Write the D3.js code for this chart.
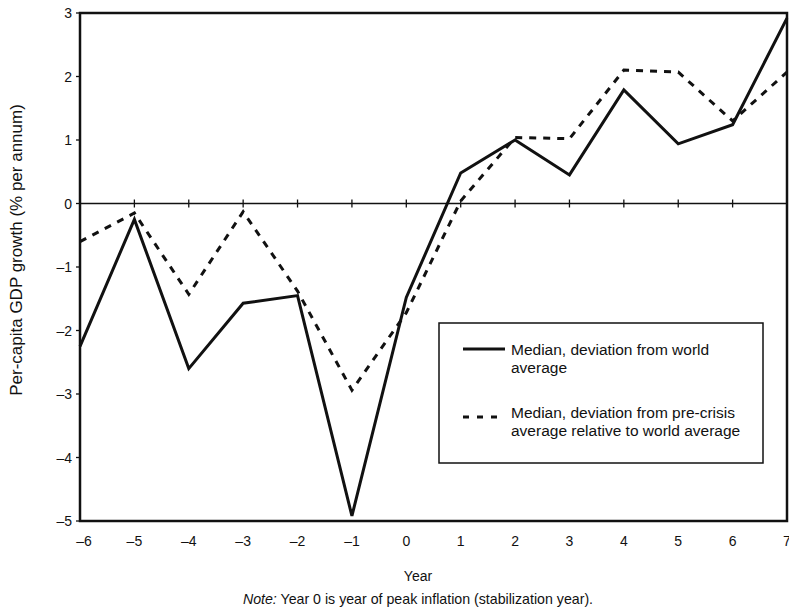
<!DOCTYPE html>
<html>
<head>
<meta charset="utf-8">
<script src="https://cdn.jsdelivr.net/npm/d3@7/dist/d3.min.js"></script>
<style>
  body { margin: 0; background: #fff; }
  svg { display: block; font-family: "Liberation Sans", Arial, Helvetica, sans-serif; }
</style>
</head>
<body>
<svg id="chart" width="789" height="612"></svg>
<script>
const years = [-6, -5, -4, -3, -2, -1, 0, 1, 2, 3, 4, 5, 6, 7];
const medianWorld = [-2.25, -0.25, -2.6, -1.57, -1.45, -4.92, -1.48, 0.48, 1.0, 0.45, 1.79, 0.94, 1.24, 2.92];
const medianPreCrisis = [-0.6, -0.15, -1.43, -0.13, -1.38, -2.94, -1.72, 0.04, 1.04, 1.02, 2.1, 2.07, 1.3, 2.07];
const yTicks = [3, 2, 1, 0, -1, -2, -3, -4, -5];
const xTicks = [-6, -5, -4, -3, -2, -1, 0, 1, 2, 3, 4, 5, 6, 7];
const legendLabels = [
  ["Median, deviation from world", "average"],
  ["Median, deviation from pre-crisis", "average relative to world average"]
];
const yAxisTitle = "Per-capita GDP growth (% per annum)";
const xAxisTitle = "Year";

const svg = d3.select("#chart");
const pLeft = 80, pRight = 787, pTop = 13, pBottom = 521;
const x = d3.scaleLinear().domain([-6, 7]).range([pLeft, pRight]);
const y = d3.scaleLinear().domain([-5, 3]).range([pBottom, pTop]);
const fmt = d => d < 0 ? "\u2013" + Math.abs(d) : String(d);

// zero line with ticks
svg.append("line").attr("x1", pLeft).attr("x2", pRight)
  .attr("y1", y(0)).attr("y2", y(0))
  .attr("stroke", "#111").attr("stroke-width", 1.6);
svg.append("g").selectAll("line").data(xTicks.slice(1, -1)).join("line")
  .attr("x1", d => x(d)).attr("x2", d => x(d))
  .attr("y1", y(0) - 4).attr("y2", y(0) + 4)
  .attr("stroke", "#111").attr("stroke-width", 1.3);

// y axis ticks (outward)
svg.append("g").selectAll("line").data(yTicks).join("line")
  .attr("x1", pLeft - 4).attr("x2", pLeft)
  .attr("y1", d => y(d)).attr("y2", d => y(d))
  .attr("stroke", "#111").attr("stroke-width", 1.3);

// y labels
svg.append("g").selectAll("text").data(yTicks).join("text")
  .attr("x", pLeft - 8).attr("y", d => y(d)).attr("dy", "0.36em")
  .attr("text-anchor", "end").attr("font-size", 14).attr("fill", "#111")
  .text(fmt);

// x labels
svg.append("g").selectAll("text").data(xTicks).join("text")
  .attr("x", d => x(d) + (d === -6 ? 4 : 0)).attr("y", pBottom + 25)
  .attr("text-anchor", "middle").attr("font-size", 14).attr("fill", "#111")
  .text(fmt);

// lines
const line = d3.line().x((d, i) => x(years[i])).y(d => y(d));
svg.append("path").datum(medianPreCrisis).attr("d", line)
  .attr("fill", "none").attr("stroke", "#111").attr("stroke-width", 3)
  .attr("stroke-dasharray", "7,7");
svg.append("path").datum(medianWorld).attr("d", line)
  .attr("fill", "none").attr("stroke", "#111").attr("stroke-width", 3)
  .attr("stroke-linejoin", "miter");

// frame
svg.append("rect").attr("x", pLeft).attr("y", pTop)
  .attr("width", pRight - pLeft).attr("height", pBottom - pTop)
  .attr("fill", "none").attr("stroke", "#111").attr("stroke-width", 2.5);

// legend
const lg = svg.append("g");
lg.append("rect").attr("x", 439).attr("y", 323).attr("width", 324).attr("height", 140)
  .attr("fill", "#fff").attr("stroke", "#111").attr("stroke-width", 1.5);
lg.append("line").attr("x1", 463).attr("x2", 505).attr("y1", 349).attr("y2", 349)
  .attr("stroke", "#111").attr("stroke-width", 3);
lg.append("line").attr("x1", 463).attr("x2", 502).attr("y1", 417).attr("y2", 417)
  .attr("stroke", "#111").attr("stroke-width", 3).attr("stroke-dasharray", "6,8");
legendLabels.forEach((lines, i) => {
  const t = lg.append("text").attr("x", 511).attr("y", i === 0 ? 355 : 418)
    .attr("font-size", 15.5).attr("fill", "#111");
  lines.forEach((s, j) => t.append("tspan").attr("x", 511).attr("dy", j === 0 ? 0 : 18).text(s));
});

// titles
svg.append("text").attr("transform", "translate(22,250) rotate(-90)")
  .attr("text-anchor", "middle").attr("font-size", 17).attr("fill", "#111").text(yAxisTitle);
svg.append("text").attr("x", 418).attr("y", 581).attr("text-anchor", "middle")
  .attr("font-size", 14).attr("fill", "#111").text(xAxisTitle);
const note = svg.append("text").attr("x", 418).attr("y", 604).attr("text-anchor", "middle")
  .attr("font-size", 14.2).attr("fill", "#111");
note.append("tspan").attr("font-style", "italic").text("Note:");
note.append("tspan").text(" Year 0 is year of peak inflation (stabilization year).");
</script>
</body>
</html>
